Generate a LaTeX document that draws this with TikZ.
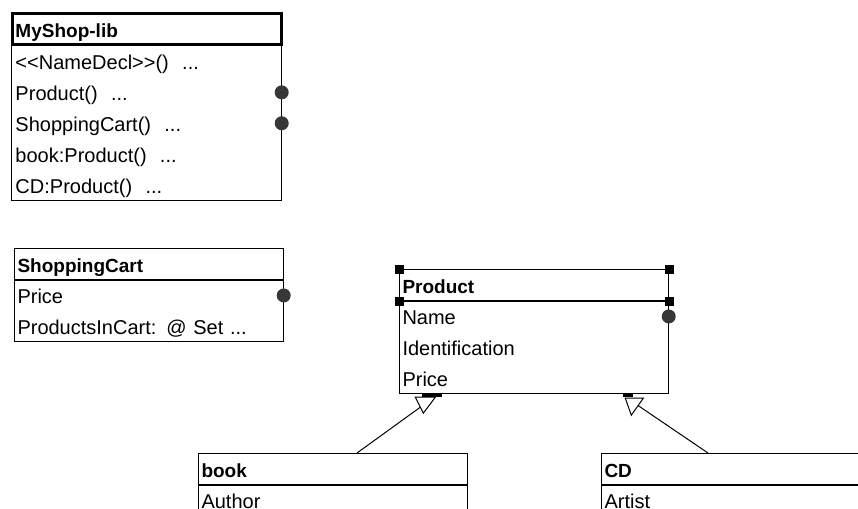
\documentclass[tikz,border=0pt]{standalone}
\usepackage{fontspec}
\setmainfont{Liberation Sans}
\usetikzlibrary{positioning,calc}
\definecolor{PortGrey}{RGB}{55,55,55}

\tikzset{
  cls/.style={draw,line width=1pt,anchor=north west,minimum width=269pt,minimum height=31pt,
    text width=263pt,inner xsep=3pt,inner ysep=0pt,align=left,
    font=\fontsize{19}{19}\selectfont\bfseries,text height=18pt,text depth=1pt},
  mem/.style={anchor=north west,minimum width=269pt,minimum height=30.5pt,
    text width=263pt,inner xsep=3pt,inner ysep=0pt,align=left,
    font=\fontsize{20}{20}\selectfont,text height=17.5pt,text depth=1pt},
  portdot/.style={circle,fill=PortGrey,inner sep=0pt,minimum size=14pt},
  selhandle/.style={fill=black,inner sep=0pt,minimum size=9pt},
  frame/.style={line width=1pt},
}

\begin{document}
\begin{tikzpicture}[x=1pt,y=-1pt]
\useasboundingbox (0,0) rectangle (858,508);
\clip (0,0) rectangle (858,508);

\node[cls,line width=3pt] (lib) at (11,12) {MyShop-lib};
\node[mem,below=0pt of lib] (lib-m1) {<{}<NameDecl>{}>() \ ...};
\node[mem,below=0pt of lib-m1] (lib-m2) {Product() \ ...};
\node[mem,below=0pt of lib-m2] (lib-m3) {ShoppingCart() \ ...};
\node[mem,below=0pt of lib-m3] (lib-m4) {book:Product() \ ...};
\node[mem,below=0pt of lib-m4] (lib-m5) {CD:Product() \ ...};
\draw[frame] (lib.south west) rectangle (lib-m5.south east);
\node[portdot] (lib-p1) at (lib-m2.east) {};
\node[portdot] (lib-p2) at (lib-m3.east) {};

\node[cls] (cart) at (14,248) {ShoppingCart};
\node[mem,below=0pt of cart] (cart-m1) {Price};
\node[mem,below=0pt of cart-m1] (cart-m2) {ProductsInCart: @ Set ...};
\draw[frame] (cart.south west) rectangle (cart-m2.south east);
\node[portdot] (cart-p1) at (cart-m1.east) {};

\node[cls] (product) at (399,269) {Product};
\node[mem,below=0pt of product] (product-m1) {Name};
\node[mem,below=0pt of product-m1] (product-m2) {Identification};
\node[mem,below=0pt of product-m2] (product-m3) {Price};
\draw[frame] (product.south west) rectangle (product-m3.south east);
\node[portdot] (product-p1) at (product-m1.east) {};
\node[selhandle] (h1) at (product.north west) {};
\node[selhandle] (h2) at (product.north east) {};
\node[selhandle] (h3) at (product.south west) {};
\node[selhandle] (h4) at (product.south east) {};

\node[cls] (book) at (198,453) {book};
\node[mem,below=0pt of book] (book-m1) {Author};
\draw[frame] (book.south west) rectangle (book-m1.south east);

\node[cls] (cd) at (601,453) {CD};
\node[mem,below=0pt of cd] (cd-m1) {Artist};
\draw[frame] (cd.south west) rectangle (cd-m1.south east);

% generalisation marks under Product
\fill ($(product-m3.south west)+(23,0.5)$) rectangle ($(product-m3.south west)+(43,3.5)$);
\draw[frame] ($(product-m3.south west)+(16,3.5)$) -- ($(product-m3.south west)+(36,3.5)$)
  -- ($(product-m3.south west)+(24,19.5)$) -- cycle;
\fill ($(product-m3.south west)+(224,0.5)$) rectangle ($(product-m3.south west)+(234,3.5)$);
\draw[frame] ($(product-m3.south west)+(226,4.5)$) -- ($(product-m3.south west)+(244,4.5)$)
  -- ($(product-m3.south west)+(232,21.5)$) -- cycle;

\coordinate (book-top) at ($(book.north west)+(159,0)$);
\coordinate (book-tip) at ($(product-m3.south west)+(21,13.5)$);
\coordinate (cd-top) at ($(cd.north west)+(107,0)$);
\coordinate (cd-tip) at ($(product-m3.south west)+(239,12)$);
\draw[frame] (book-top) -- (book-tip);
\draw[frame] (cd-top) -- (cd-tip);
\end{tikzpicture}
\end{document}
